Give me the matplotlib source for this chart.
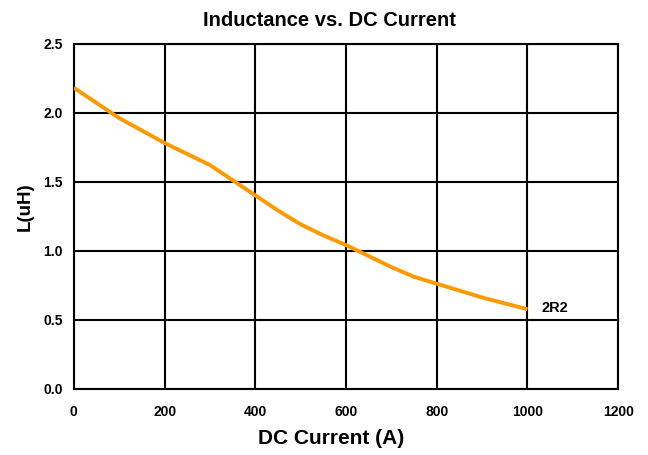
import numpy as np
import matplotlib.pyplot as plt

# values
current = [0, 100, 200, 300, 400, 450, 500, 550, 600, 700, 750, 800, 900, 1000]
inductance = [2.18, 1.96, 1.78, 1.62, 1.40, 1.29, 1.19, 1.11, 1.04, 0.88, 0.81, 0.76, 0.66, 0.575]
series_name = '2R2'
x_ticks = [0, 200, 400, 600, 800, 1000, 1200]
y_ticks = [0.0, 0.5, 1.0, 1.5, 2.0, 2.5]

plt.rcParams['font.family'] = ['Liberation Sans', 'DejaVu Sans']

fig = plt.figure(figsize=(6.48, 4.55), dpi=100)
ax = fig.add_axes([0.114, 0.146, 0.840, 0.758])

ax.plot(current, inductance, color='#FF9900', linewidth=2.8, solid_capstyle='butt', zorder=3)
ax.text(1032, 0.585, series_name, fontsize=10.5, fontweight='bold', va='center', ha='left')

ax.set_xlim(0, 1200)
ax.set_ylim(0, 2.5)
ax.set_xticks(x_ticks)
ax.set_yticks(y_ticks)
ax.set_xticklabels([str(t) for t in x_ticks], fontsize=10, fontweight='bold')
ax.set_yticklabels([f'{t:.1f}' for t in y_ticks], fontsize=10, fontweight='bold')
ax.tick_params(axis='x', length=0, pad=12)
ax.tick_params(axis='y', length=0, pad=8)
ax.grid(True, color='black', linewidth=1.5)
for s in ax.spines.values():
    s.set_linewidth(1.5)
    s.set_color('black')

# titles placed in figure coords to match the reference
fig.text(0.509, 0.956, 'Inductance vs. DC Current', fontsize=14.5, fontweight='bold',
         ha='center', va='center')
fig.text(0.511, 0.037, 'DC Current (A)', fontsize=15, fontweight='bold',
         ha='center', va='center')
fig.text(0.039, 0.545, 'L(uH)', fontsize=13.5, fontweight='bold',
         ha='center', va='center', rotation=90)

fig.savefig('out.png', dpi=100, facecolor='white')
